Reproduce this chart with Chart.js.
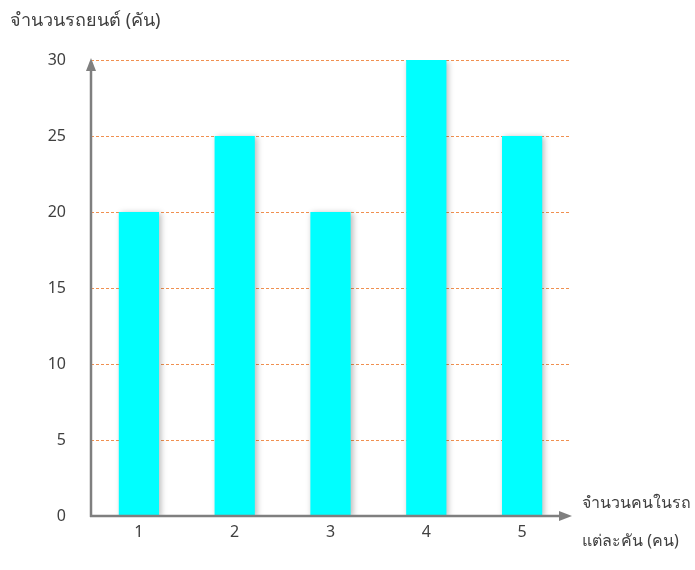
<!DOCTYPE html>
<html>
<head>
<meta charset="utf-8">
<script src="https://cdn.jsdelivr.net/npm/chart.js@4"></script>
<style>
  html, body { margin: 0; padding: 0; background: #fff; }
  #wrap { width: 695px; height: 570px; }
</style>
</head>
<body>
<div id="wrap"><canvas id="barChart" width="695" height="570"></canvas></div>
<script>
        // chart data
        const categories = ["1", "2", "3", "4", "5"];
        const carCounts = [20, 25, 20, 30, 25];
        const yTicks = [0, 5, 10, 15, 20, 25, 30];
        const yTitle = "จำนวนรถยนต์ (คัน)";
        const xTitle = ["จำนวนคนในรถ", "แต่ละคัน (คน)"];

        const fontFamily = 'Tahoma, "Noto Sans", "DejaVu Sans", sans-serif';
        const textColor = "#404040";
        const axisColor = "#7f7f7f";

        // shadow behind the bars
        const barShadow = {
            id: "barShadow",
            beforeDatasetDraw(chart) {
                const c = chart.ctx;
                c.save();
                c.shadowColor = "rgba(0,0,0,0.28)";
                c.shadowBlur = 6;
                c.shadowOffsetX = 2;
                c.shadowOffsetY = 1;
            },
            afterDatasetDraw(chart) {
                chart.ctx.restore();
            }
        };

        // axes with arrow heads + titles
        const axesAndTitles = {
            id: "axesAndTitles",
            afterDatasetsDraw(chart) {
                const c = chart.ctx;
                const a = chart.chartArea;
                const x0 = a.left, y0 = a.bottom;
                c.save();
                c.strokeStyle = axisColor;
                c.fillStyle = axisColor;
                c.lineWidth = 2.5;
                // y axis
                c.beginPath();
                c.moveTo(x0, y0 + 1);
                c.lineTo(x0, a.top + 8);
                c.stroke();
                c.beginPath();
                c.moveTo(x0, a.top - 2);
                c.lineTo(x0 - 5, a.top + 11);
                c.lineTo(x0 + 5, a.top + 11);
                c.closePath();
                c.fill();
                // x axis
                c.beginPath();
                c.moveTo(x0 - 1, y0);
                c.lineTo(a.right - 8, y0);
                c.stroke();
                c.beginPath();
                c.moveTo(a.right + 2, y0);
                c.lineTo(a.right - 11, y0 - 5);
                c.lineTo(a.right - 11, y0 + 5);
                c.closePath();
                c.fill();

                // titles
                c.fillStyle = textColor;
                c.textBaseline = "middle";
                c.textAlign = "left";
                c.font = "18px " + fontFamily;
                c.fillText(yTitle, 10, 21);
                c.font = "16px " + fontFamily;
                c.fillText(xTitle[0], a.right + 12, y0 - 13);
                c.fillText(xTitle[1], a.right + 12, y0 + 25);
                c.restore();
            }
        };

        function drawBarChart() {
            const ctx = document.getElementById("barChart").getContext("2d");
            const barChart = new Chart(ctx, {
                type: "bar",
                data: {
                    labels: categories,
                    datasets: [{
                        data: carCounts,
                        backgroundColor: "#00ffff",
                        borderWidth: 0,
                        barPercentage: 0.42,
                        categoryPercentage: 1.0
                    }]
                },
                options: {
                    responsive: false,
                    animation: false,
                    layout: { padding: { left: 0, right: 125, top: 60, bottom: 0 } },
                    plugins: {
                        legend: { display: false },
                        tooltip: { enabled: false }
                    },
                    scales: {
                        x: {
                            grid: { display: false, drawTicks: false },
                            border: { display: false },
                            ticks: {
                                color: textColor,
                                font: { family: fontFamily, size: 16 },
                                padding: 7
                            },
                            afterFit(scale) { scale.height = 54; }
                        },
                        y: {
                            min: 0,
                            max: 30,
                            afterBuildTicks(scale) {
                                scale.ticks = yTicks.map(v => ({ value: v }));
                            },
                            grid: {
                                drawTicks: false,
                                lineWidth: 1,
                                color: ctx => ctx.tick && ctx.tick.value === 0 ? "rgba(0,0,0,0)" : "rgba(237,125,49,0.85)"
                            },
                            border: { display: false, dash: [3, 2] },
                            ticks: {
                                color: textColor,
                                font: { family: fontFamily, size: 16 },
                                padding: 25
                            },
                            afterFit(scale) { scale.width = 91; }
                        }
                    }
                },
                plugins: [barShadow, axesAndTitles]
            });
        }

        drawBarChart();
</script>
</body>
</html>
